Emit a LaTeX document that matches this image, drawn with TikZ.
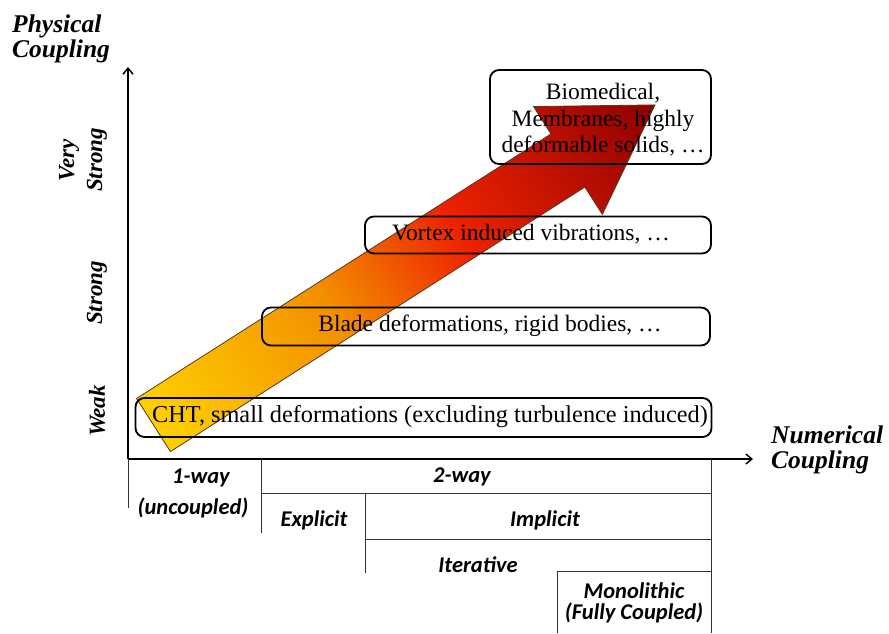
\documentclass[tikz,border=0pt]{standalone}
\usepackage{fontspec}
\setmainfont{Liberation Serif}
\newfontfamily\tablefont{Carlito}
\usetikzlibrary{calc,arrows.meta}
\definecolor{goldC}{HTML}{FFD000}
\definecolor{orangeC}{HTML}{F39000}
\definecolor{redC}{HTML}{EE2200}
\definecolor{darkC}{HTML}{8E0000}
\tikzset{
  boxstyle/.style={draw=black, line width=1.8pt, rounded corners=9pt, inner sep=0pt},
  boxtext/.style={align=center, inner sep=0pt, font=\fontsize{23.5}{26.5}\selectfont},
  axistitle/.style={font=\fontsize{25.5}{25}\selectfont\bfseries\itshape, align=left, inner sep=0pt},
  levellabel/.style={font=\fontsize{23}{28}\selectfont\bfseries\itshape, rotate=90, align=center, inner sep=0pt},
  tablelabel/.style={font=\tablefont\fontsize{22.5}{24}\selectfont\bfseries\itshape, align=center, inner sep=0pt},
  axisline/.style={line width=1.5pt, -{Straight Barb[length=6pt,width=10pt]}},
  tableline/.style={line width=1pt, draw=black!80},
  arrowedge/.style={draw=black!55!brown, line width=0.8pt, line join=miter}
}
\begin{document}
\begin{tikzpicture}[x=1pt,y=-1pt]
\useasboundingbox (0,0) rectangle (889,633);
\fill[white] (0,0) rectangle (889,633);

% big gradient arrow
\begin{scope}[shift={(153.5,425)}, rotate=32.55]
  \coordinate (T1) at (0,-31.5);
  \coordinate (J1) at (491.7,-31.5);
  \coordinate (H1) at (491.7,-64);
  \coordinate (tip) at (595,0);
  \coordinate (H2) at (491.7,64);
  \coordinate (J2) at (491.7,31.5);
  \coordinate (T2) at (0,31.5);
  \begin{scope}
    \clip (T1) -- (J1) -- (H1) -- (tip) -- (H2) -- (J2) -- (T2) -- cycle;
    \foreach \a in {-6,-3,...,210}{\pgfmathsetmacro\p{max(0,\a)/210*100}
      \fill[orangeC!\p!goldC] (\a,-80) rectangle ({\a+3.6},80);}
    \foreach \a in {210,213,...,360}{\pgfmathsetmacro\p{(\a-210)/150*100}
      \fill[redC!\p!orangeC] (\a,-80) rectangle ({\a+3.6},80);}
    \foreach \a in {360,363,...,603}{\pgfmathsetmacro\p{min(100,(\a-360)/235*100)}
      \fill[darkC!\p!redC] (\a,-80) rectangle ({\a+3.6},80);}
  \end{scope}
  \draw[arrowedge] (T1) -- (J1) -- (H1) -- (tip) -- (H2) -- (J2) -- (T2) -- cycle;
\end{scope}

% axes
\coordinate (O) at (128,459);
\coordinate (Ytip) at (128,67);
\coordinate (Xtip) at (753,459);
\draw[axisline] (O) -- (Ytip);
\draw[axisline] (O) -- (Xtip);

\node[axistitle, anchor=base west] (phys) at (12,57) {Physical\\Coupling};
\node[axistitle, anchor=base west] (num) at (771,468) {Numerical\\Coupling};

\node[levellabel] (vstrong) at (83,160) {Very\\Strong};
\node[levellabel] (strong) at (97,293) {Strong};
\node[levellabel] (weak) at (97,411) {Weak};

% category boxes
\node[boxstyle, minimum width=576pt, minimum height=39pt] (cht) at (423.5,417.5) {};
\node[boxtext, font=\fontsize{24.3}{26.5}\selectfont] (chtt) at (430,416.5)
  {CHT, small deformations (excluding turbulence induced)};
\node[boxstyle, minimum width=448pt, minimum height=38pt] (blade) at (486,326.5) {};
\node[boxtext] (bladet) at (490,326)
  {Blade deformations, rigid bodies, \dots};
\node[boxstyle, minimum width=346pt, minimum height=37pt] (vortex) at (538,235) {};
\node[boxtext] (vortext) at (531,234.5)
  {Vortex induced vibrations, \dots};
\node[boxstyle, minimum width=221pt, minimum height=94pt] (bio) at (600.5,117) {};
\node[boxtext] (biot) at (603,120)
  {Biomedical,\\Membranes, highly\\deformable solids, \dots};

% numerical coupling table
\draw[tableline] (128,459) -- (128,508);
\draw[tableline] (261,459) -- (261,533);
\draw[tableline] (261,493) -- (711,493);
\draw[tableline] (711,459) -- (711,633);
\draw[tableline] (365,493) -- (365,573);
\draw[tableline] (365,539) -- (711,539);
\draw[tableline] (557,571) -- (557,633);
\draw[tableline] (557,571) -- (711,571);

\node[tablelabel] (oneway) at (201,478) {1-way};
\node[tablelabel] (uncoupled) at (193,508) {(uncoupled)};
\node[tablelabel] (twoway) at (462,477) {2-way};
\node[tablelabel] (explicit) at (314,520) {Explicit};
\node[tablelabel] (implicit) at (545,520) {Implicit};
\node[tablelabel] (iterative) at (478,565) {Iterative};
\node[tablelabel] (mono) at (634,591) {Monolithic};
\node[tablelabel] (fully) at (634,613) {(Fully Coupled)};
\end{tikzpicture}
\end{document}
